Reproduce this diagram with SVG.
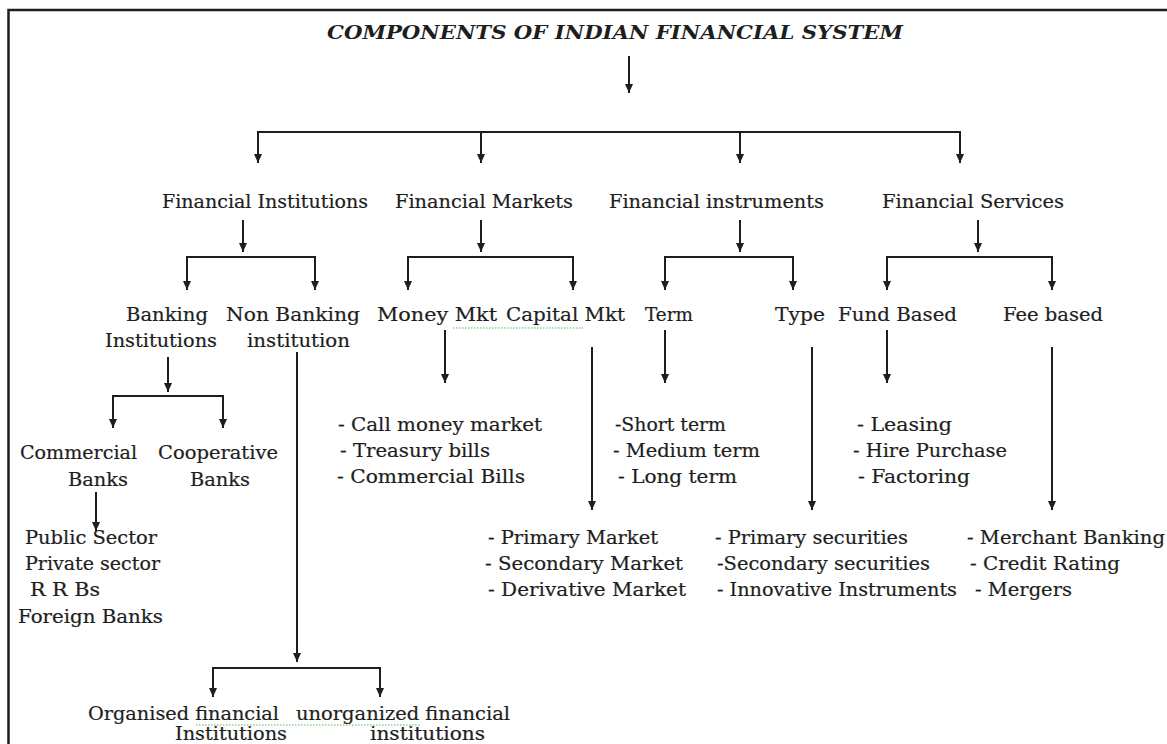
<svg xmlns="http://www.w3.org/2000/svg" width="1167" height="744" viewBox="0 0 1167 744">
<style>
.t{font-family:"DejaVu Serif","Liberation Serif",serif;font-size:18px;fill:#1e1e1e;stroke:#1e1e1e;stroke-width:0.2}
.title{font-family:"DejaVu Serif","Liberation Serif",serif;font-size:19px;font-weight:bold;font-style:italic;fill:#1e1e1e}
.c line,.c path{stroke:#1e1e1e;stroke-width:2;fill:none}
.c .a{marker-end:url(#ah)}
.sq{stroke:#8fcf8f;stroke-width:1.4;fill:none;stroke-dasharray:1.5 1.5}
</style>
<defs>
<marker id="ah" viewBox="0 0 9 8" refX="9" refY="4" markerWidth="9" markerHeight="8" markerUnits="userSpaceOnUse" orient="auto">
<path d="M0,0 L9,4 L0,8 z" fill="#1e1e1e"/>
</marker>
</defs>
<rect width="1167" height="744" fill="#fff"/>
<path d="M8.5,744 V10 H1167" stroke="#1e1e1e" stroke-width="2.5" fill="none"/>

<g id="title"><text class="title" x="327" y="39" textLength="576" lengthAdjust="spacingAndGlyphs">COMPONENTS OF INDIAN FINANCIAL SYSTEM</text></g>

<g id="fin-institutions"><text class="t" x="162" y="208" textLength="206" lengthAdjust="spacingAndGlyphs">Financial Institutions</text></g>
<g id="fin-markets"><text class="t" x="395" y="208" textLength="178" lengthAdjust="spacingAndGlyphs">Financial Markets</text></g>
<g id="fin-instruments"><text class="t" x="609" y="208" textLength="215" lengthAdjust="spacingAndGlyphs">Financial instruments</text></g>
<g id="fin-services"><text class="t" x="882" y="208" textLength="182" lengthAdjust="spacingAndGlyphs">Financial Services</text></g>

<g id="banking"><text class="t" x="126" y="321" textLength="82" lengthAdjust="spacingAndGlyphs">Banking</text><text class="t" x="105" y="347" textLength="112" lengthAdjust="spacingAndGlyphs">Institutions</text></g>
<g id="non-banking"><text class="t" x="226" y="321" textLength="134" lengthAdjust="spacingAndGlyphs">Non Banking</text><text class="t" x="247" y="347" textLength="103" lengthAdjust="spacingAndGlyphs">institution</text></g>
<g id="money-mkt"><text class="t" x="377" y="321" textLength="120" lengthAdjust="spacingAndGlyphs">Money Mkt</text></g>
<g id="capital-mkt"><text class="t" x="506" y="321" textLength="119" lengthAdjust="spacingAndGlyphs">Capital Mkt</text></g>
<g id="term"><text class="t" x="645" y="321" textLength="48" lengthAdjust="spacingAndGlyphs">Term</text></g>
<g id="type"><text class="t" x="775" y="321" textLength="50" lengthAdjust="spacingAndGlyphs">Type</text></g>
<g id="fund-based"><text class="t" x="838" y="321" textLength="119" lengthAdjust="spacingAndGlyphs">Fund Based</text></g>
<g id="fee-based"><text class="t" x="1003" y="321" textLength="100" lengthAdjust="spacingAndGlyphs">Fee based</text></g>

<g id="commercial-banks"><text class="t" x="20" y="459" textLength="117" lengthAdjust="spacingAndGlyphs">Commercial</text><text class="t" x="68" y="486" textLength="60" lengthAdjust="spacingAndGlyphs">Banks</text></g>
<g id="cooperative-banks"><text class="t" x="158" y="459" textLength="120" lengthAdjust="spacingAndGlyphs">Cooperative</text><text class="t" x="190" y="486" textLength="60" lengthAdjust="spacingAndGlyphs">Banks</text></g>

<g id="commercial-list">
<text class="t" x="25" y="544" textLength="132" lengthAdjust="spacingAndGlyphs">Public Sector</text>
<text class="t" x="25" y="570" textLength="135" lengthAdjust="spacingAndGlyphs">Private sector</text>
<text class="t" x="30" y="596" textLength="70" lengthAdjust="spacingAndGlyphs">R R Bs</text>
<text class="t" x="18" y="623" textLength="145" lengthAdjust="spacingAndGlyphs">Foreign Banks</text>
</g>

<g id="money-list">
<text class="t" x="338" y="431" textLength="204" lengthAdjust="spacingAndGlyphs">- Call money market</text>
<text class="t" x="340" y="457" textLength="150" lengthAdjust="spacingAndGlyphs">- Treasury bills</text>
<text class="t" x="337" y="483" textLength="188" lengthAdjust="spacingAndGlyphs">- Commercial Bills</text>
</g>

<g id="term-list">
<text class="t" x="615" y="431" textLength="111" lengthAdjust="spacingAndGlyphs">-Short term</text>
<text class="t" x="613" y="457" textLength="147" lengthAdjust="spacingAndGlyphs">- Medium term</text>
<text class="t" x="618" y="483" textLength="119" lengthAdjust="spacingAndGlyphs">- Long term</text>
</g>

<g id="fund-list">
<text class="t" x="857" y="431" textLength="95" lengthAdjust="spacingAndGlyphs">- Leasing</text>
<text class="t" x="853" y="457" textLength="154" lengthAdjust="spacingAndGlyphs">- Hire Purchase</text>
<text class="t" x="858" y="483" textLength="112" lengthAdjust="spacingAndGlyphs">- Factoring</text>
</g>

<g id="capital-list">
<text class="t" x="488" y="544" textLength="170" lengthAdjust="spacingAndGlyphs">- Primary Market</text>
<text class="t" x="485" y="570" textLength="198" lengthAdjust="spacingAndGlyphs">- Secondary Market</text>
<text class="t" x="488" y="596" textLength="198" lengthAdjust="spacingAndGlyphs">- Derivative Market</text>
</g>

<g id="type-list">
<text class="t" x="715" y="544" textLength="193" lengthAdjust="spacingAndGlyphs">- Primary securities</text>
<text class="t" x="717" y="570" textLength="213" lengthAdjust="spacingAndGlyphs">-Secondary securities</text>
<text class="t" x="717" y="596" textLength="240" lengthAdjust="spacingAndGlyphs">- Innovative Instruments</text>
</g>

<g id="fee-list">
<text class="t" x="967" y="544" textLength="198" lengthAdjust="spacingAndGlyphs">- Merchant Banking</text>
<text class="t" x="970" y="570" textLength="150" lengthAdjust="spacingAndGlyphs">- Credit Rating</text>
<text class="t" x="975" y="596" textLength="97" lengthAdjust="spacingAndGlyphs">- Mergers</text>
</g>

<g id="organised"><text class="t" x="88" y="720" textLength="191" lengthAdjust="spacingAndGlyphs">Organised financial</text><text class="t" x="175" y="740" textLength="112" lengthAdjust="spacingAndGlyphs">Institutions</text></g>
<g id="unorganized"><text class="t" x="296" y="720" textLength="214" lengthAdjust="spacingAndGlyphs">unorganized financial</text><text class="t" x="370" y="740" textLength="115" lengthAdjust="spacingAndGlyphs">institutions</text></g>

<g id="spellcheck">
<path class="sq" d="M453,328 H583"/>
<path class="sq" d="M196,725 H420"/>
</g>

<g id="connectors" class="c">
<line class="a" x1="629" y1="56" x2="629" y2="93"/>
<line x1="257" y1="132" x2="961" y2="132"/>
<line class="a" x1="258" y1="132" x2="258" y2="163"/>
<line class="a" x1="481" y1="132" x2="481" y2="163"/>
<line class="a" x1="740" y1="132" x2="740" y2="163"/>
<line class="a" x1="960" y1="132" x2="960" y2="163"/>

<line class="a" x1="243" y1="220" x2="243" y2="252"/>
<line x1="186" y1="257" x2="316" y2="257"/>
<line class="a" x1="187" y1="257" x2="187" y2="290"/>
<line class="a" x1="315" y1="257" x2="315" y2="290"/>

<line class="a" x1="481" y1="220" x2="481" y2="252"/>
<line x1="407" y1="257" x2="574" y2="257"/>
<line class="a" x1="408" y1="257" x2="408" y2="290"/>
<line class="a" x1="573" y1="257" x2="573" y2="290"/>

<line class="a" x1="740" y1="220" x2="740" y2="252"/>
<line x1="664" y1="257" x2="794" y2="257"/>
<line class="a" x1="665" y1="257" x2="665" y2="290"/>
<line class="a" x1="793" y1="257" x2="793" y2="290"/>

<line class="a" x1="978" y1="220" x2="978" y2="252"/>
<line x1="886" y1="257" x2="1053" y2="257"/>
<line class="a" x1="887" y1="257" x2="887" y2="290"/>
<line class="a" x1="1052" y1="257" x2="1052" y2="290"/>

<line class="a" x1="168" y1="357" x2="168" y2="392"/>
<line x1="112" y1="396" x2="224" y2="396"/>
<line class="a" x1="113" y1="396" x2="113" y2="428"/>
<line class="a" x1="223" y1="396" x2="223" y2="428"/>

<line class="a" x1="96" y1="492" x2="96" y2="531"/>

<line class="a" x1="297" y1="352" x2="297" y2="662"/>
<line x1="212" y1="668" x2="381" y2="668"/>
<line class="a" x1="213" y1="668" x2="213" y2="697"/>
<line class="a" x1="380" y1="668" x2="380" y2="697"/>

<line class="a" x1="445" y1="330" x2="445" y2="383"/>
<line class="a" x1="592" y1="347" x2="592" y2="510"/>
<line class="a" x1="665" y1="330" x2="665" y2="383"/>
<line class="a" x1="812" y1="347" x2="812" y2="510"/>
<line class="a" x1="887" y1="330" x2="887" y2="383"/>
<line class="a" x1="1052" y1="347" x2="1052" y2="510"/>
</g>
</svg>
